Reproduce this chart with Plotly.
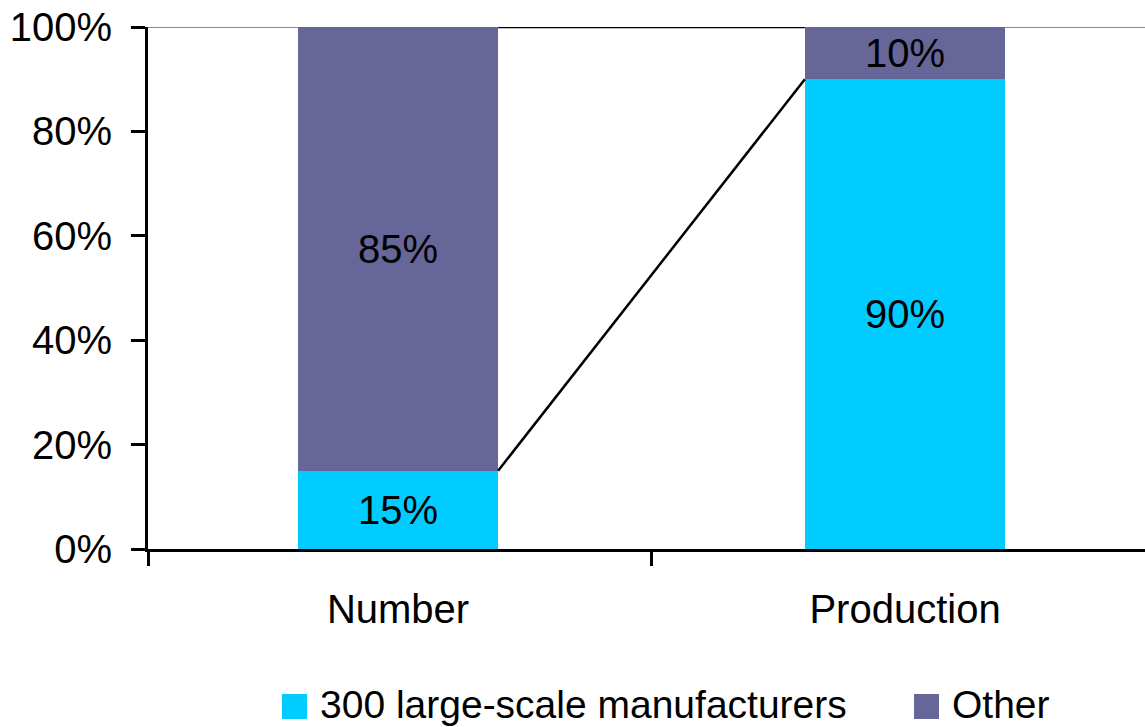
import plotly.graph_objects as go

categories = ["Number", "Production"]
large_scale = [0.15, 0.90]
other = [0.85, 0.10]
series_names = ["300 large-scale manufacturers", "Other"]
colors = ["#00CCFF", "#666699"]
y_ticks = [0, 0.2, 0.4, 0.6, 0.8, 1.0]

W, H = 1145, 727
L, R, T, B = 148, 0, 27, 178
bar_w = 0.395
FONT = "Liberation Sans, Arial, sans-serif"
FS = 40

xs = list(range(len(categories)))
fig = go.Figure()
for name, vals, col in zip(series_names, [large_scale, other], colors):
    fig.add_trace(go.Bar(
        x=xs, y=vals, name=name, marker=dict(color=col, line=dict(width=0)),
        width=bar_w, text=[f"{v:.0%}" for v in vals], textposition="inside",
        insidetextanchor="middle", constraintext="none",
        textfont=dict(color="black", size=FS, family=FONT), showlegend=False,
    ))

# series lines connecting segment tops between the bars
cum1 = large_scale
cum2 = [a + b for a, b in zip(large_scale, other)]
for cum in (cum1, cum2):
    fig.add_trace(go.Scatter(
        x=[xs[0] + bar_w / 2, xs[1] - bar_w / 2], y=[cum[0], cum[1]],
        mode="lines", line=dict(color="black", width=2.5), showlegend=False,
        hoverinfo="skip",
    ))

fig.update_layout(
    barmode="stack", width=W, height=H,
    margin=dict(l=L, r=R, t=T, b=B, pad=0),
    plot_bgcolor="white", paper_bgcolor="white",
    font=dict(family=FONT, size=FS, color="black"),
    showlegend=False,
)

pw = W - L - R
band = 507.0
x0 = -250.0 / band
xr = [x0, x0 + pw / band]

fig.update_xaxes(range=xr, tickvals=[x0, 0.5, 1.5], ticktext=["", "", ""],
                 ticks="outside", ticklen=14, tickwidth=3, tickcolor="black",
                 showline=True, linecolor="black", linewidth=3, showgrid=False,
                 zeroline=False)
fig.update_layout(xaxis2=dict(overlaying="x", matches="x", side="bottom",
                              tickvals=xs, ticktext=categories, ticks="",
                              showline=False, showgrid=False, zeroline=False,
                              ticklabelstandoff=33,
                              tickfont=dict(size=FS, family=FONT, color="black")))
fig.add_trace(go.Scatter(x=xs, y=[None, None], xaxis="x2", showlegend=False,
                         hoverinfo="skip"))

fig.update_yaxes(range=[0, 1], tickvals=y_ticks, tickformat=".0%",
                 ticks="outside", ticklen=14, tickwidth=3, tickcolor="black",
                 showline=True, linecolor="black", linewidth=3, showgrid=False,
                 zeroline=False, ticklabelstandoff=11,
                 tickfont=dict(size=FS, family=FONT, color="black"))

# 100% gridline
fig.add_shape(type="line", xref="paper", yref="y", x0=0, x1=1, y0=1, y1=1,
              line=dict(color="#8C8C8C", width=2), layer="below")

# manual legend
def px_x(p):
    return (p - L) / pw

def px_y(p):
    return (H - B - p) / (H - T - B)

legend_items = [(282, 318), (914, 950)]
for (sx, tx), name, col in zip(legend_items, series_names, colors):
    fig.add_shape(type="rect", xref="paper", yref="paper",
                  x0=px_x(sx), x1=px_x(sx + 25), y0=px_y(719), y1=px_y(694),
                  fillcolor=col, line=dict(width=0))
    fig.add_annotation(text=name, xref="paper", yref="paper", x=px_x(tx),
                       y=px_y(704), xanchor="left", yanchor="middle",
                       showarrow=False, font=dict(size=39, family=FONT, color="black"))

fig.write_html("out.html", config={"displayModeBar": False},
               post_script="document.body.style.margin='0';document.body.style.overflow='hidden';")
